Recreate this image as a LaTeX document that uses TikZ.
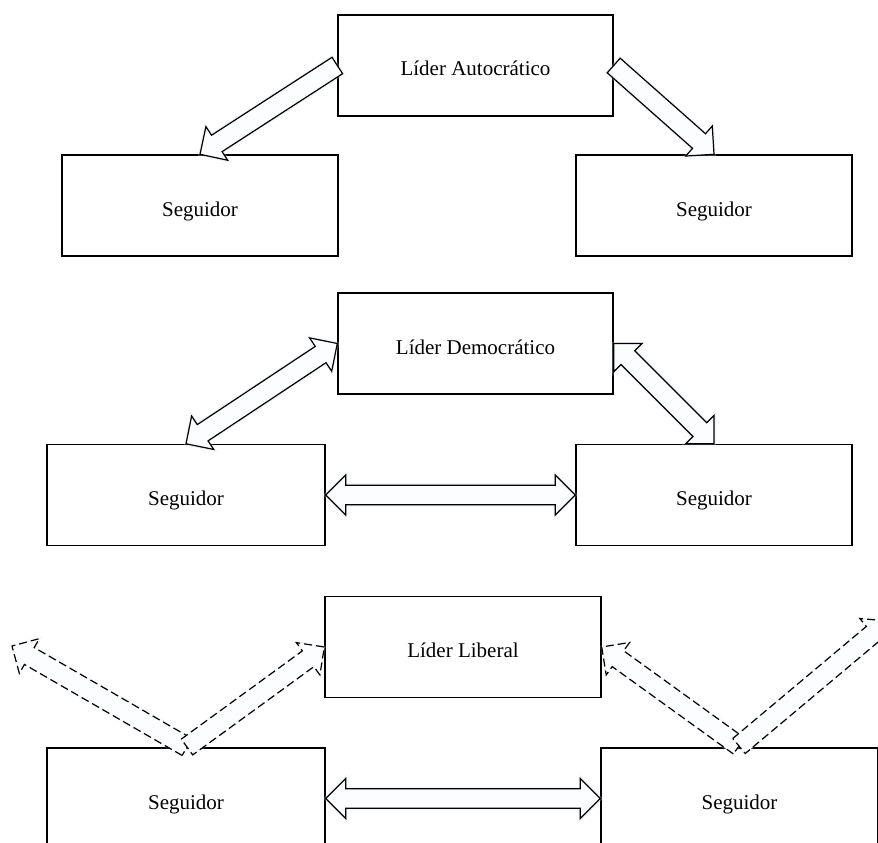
\documentclass[tikz,border=0pt]{standalone}
\usepackage{fontspec}
\setmainfont{Liberation Serif}
\usetikzlibrary{calc}
\definecolor{arrowfill}{RGB}{251,253,255}
\definecolor{glow}{RGB}{200,218,240}
\tikzset{
  box/.style={draw=black, line width=1.4pt, fill=white, inner sep=0pt,
    minimum height=101pt, text height=21pt, text depth=0pt,
    font=\fontsize{21}{25}\selectfont},
  blockarrow/.style={draw=black, line width=1.2pt, fill=arrowfill, line join=miter,
    preaction={draw=glow, line width=3.5pt, opacity=0.3}},
  dasharrow/.style={draw=black, line width=1.2pt, fill=arrowfill, line join=miter,
    dash pattern=on 8pt off 4pt,
    preaction={draw=glow, solid, line width=3pt, opacity=0.2}}
}
% single block arrow: #1 style, #2 tail, #3 tip
\newcommand\sblockarrow[3]{%
  \coordinate (tmpH) at ($(#3)!20pt!(#2)$);
  \draw[#1] ($(#2)!9.75pt!90:(#3)$) -- ($(tmpH)!9.75pt!90:(#3)$) -- ($(tmpH)!20pt!90:(#3)$)
    -- (#3) -- ($(tmpH)!20pt!-90:(#3)$) -- ($(tmpH)!9.75pt!-90:(#3)$)
    -- ($(#2)!9.75pt!-90:(#3)$) -- cycle;}
% double block arrow: #1 style, #2 and #3 tips
\newcommand\dblockarrow[3]{%
  \coordinate (tmpA) at ($(#2)!20pt!(#3)$);
  \coordinate (tmpB) at ($(#3)!20pt!(#2)$);
  \draw[#1] (#2) -- ($(tmpA)!20pt!90:(#3)$) -- ($(tmpA)!9.75pt!90:(#3)$)
    -- ($(tmpB)!9.75pt!90:(#3)$) -- ($(tmpB)!20pt!90:(#3)$) -- (#3)
    -- ($(tmpB)!20pt!-90:(#3)$) -- ($(tmpB)!9.75pt!-90:(#3)$)
    -- ($(tmpA)!9.75pt!-90:(#3)$) -- ($(tmpA)!20pt!-90:(#3)$) -- cycle;}
\begin{document}
\begin{tikzpicture}[x=1pt, y=-1pt]
\clip (0,0) rectangle (878,843);
\fill[white] (0,0) rectangle (878,843);

% ---- Autocratic ----
\node[box, minimum width=275pt] (lead1) at (475.5,65.5) {Líder Autocrático};
\node[box, minimum width=276pt] (s1l) at (200,205.5) {Seguidor};
\node[box, minimum width=276pt] (s1r) at (714,205.5) {Seguidor};
\sblockarrow{blockarrow}{lead1.west}{s1l.north}
\sblockarrow{blockarrow}{lead1.east}{s1r.north}

% ---- Democratic ----
\node[box, minimum width=275pt] (lead2) at (475.5,343.5) {Líder Democrático};
\node[box, minimum width=278pt] (s2l) at (186,495) {Seguidor};
\node[box, minimum width=276pt] (s2r) at (714,495) {Seguidor};
\dblockarrow{blockarrow}{lead2.west}{s2l.north}
\dblockarrow{blockarrow}{lead2.east}{s2r.north}
\dblockarrow{blockarrow}{s2l.east}{s2r.west}

% ---- Liberal ----
\node[box, minimum width=276pt] (lead3) at (463,647) {Líder Liberal};
\node[box, minimum width=278pt] (s3l) at (186,798.5) {Seguidor};
\node[box, minimum width=277pt] (s3r) at (739.5,798.5) {Seguidor};
\coordinate (freeL) at (12,646);
\coordinate (freeR) at (888,621);
\coordinate (tailL) at (187,747);
\coordinate (tailR) at (739,746);
\sblockarrow{dasharrow}{tailL}{freeL}
\sblockarrow{dasharrow}{tailL}{lead3.west}
\sblockarrow{dasharrow}{tailR}{lead3.east}
\sblockarrow{dasharrow}{tailR}{freeR}
\dblockarrow{blockarrow}{s3l.east}{s3r.west}
\end{tikzpicture}
\end{document}
